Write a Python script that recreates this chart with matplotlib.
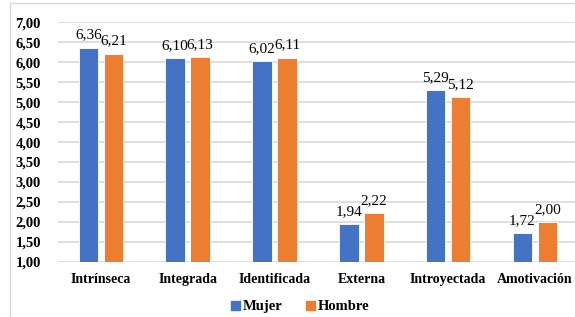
import numpy as np
import matplotlib
matplotlib.use('Agg')
from matplotlib import pyplot as plt
from matplotlib.lines import Line2D

categories = ['Intrínseca', 'Integrada', 'Identificada', 'Externa', 'Introyectada', 'Amotivación']
mujer = [6.36, 6.10, 6.02, 1.94, 5.29, 1.72]
hombre = [6.21, 6.13, 6.11, 2.22, 5.12, 2.00]
series_names = ['Mujer', 'Hombre']
colors = ['#4472C4', '#ED7D31']

serif = ['Liberation Serif', 'DejaVu Serif']

fig = plt.figure(figsize=(5.75, 3.17), dpi=100)
ax = fig.add_axes([0.1, 0.1735, 0.906, 0.757])

x = np.arange(len(categories))
w = 0.225
off = 0.144
for vals, dx, c in zip([mujer, hombre], [-off, off], colors):
    ax.bar(x + dx, np.array(vals) - 1.0, w, bottom=1.0, color=c,
           edgecolor='white', linewidth=0.6, zorder=2)
    for xi, v in zip(x + dx, vals):
        ax.text(xi, v + 0.15, ('%.2f' % v).replace('.', ','), ha='center', va='bottom',
                fontsize=11, family=serif, zorder=3)

ax.set_xlim(-0.5, 5.5)
ax.set_ylim(1.0, 7.0)
ticks = np.arange(1.0, 7.01, 0.5)
ax.set_yticks(ticks)
ax.set_yticklabels([('%.2f' % t).replace('.', ',') for t in ticks],
                   fontsize=10.5, family=serif, fontweight='bold')
ax.set_xticks(x)
ax.set_xticklabels(categories, fontsize=10, family=serif, fontweight='bold')
ax.tick_params(length=0)
ax.tick_params(axis='y', pad=12)
ax.tick_params(axis='x', pad=8)
ax.yaxis.grid(True, color='#D9D9D9', linewidth=1.2, zorder=0)
ax.set_axisbelow(True)
for s in ax.spines.values():
    s.set_visible(False)

handles = [plt.Rectangle((0, 0), 1, 1, color=c) for c in colors]
fig.legend(handles, series_names, loc='center', bbox_to_anchor=(0.522, 0.032), ncol=2,
           frameon=False, prop={'family': serif, 'weight': 'bold', 'size': 10.5},
           handlelength=0.6, handleheight=0.6, handletextpad=0.2, columnspacing=1.6)

fig.add_artist(Line2D([10 / 575, 10 / 575], [0, 1 - 3 / 317], transform=fig.transFigure,
                      color='#D9D9D9', linewidth=1))
fig.add_artist(Line2D([10 / 575, 1], [1 - 3 / 317, 1 - 3 / 317], transform=fig.transFigure,
                      color='#D9D9D9', linewidth=1))

fig.savefig('out.png', dpi=100)
